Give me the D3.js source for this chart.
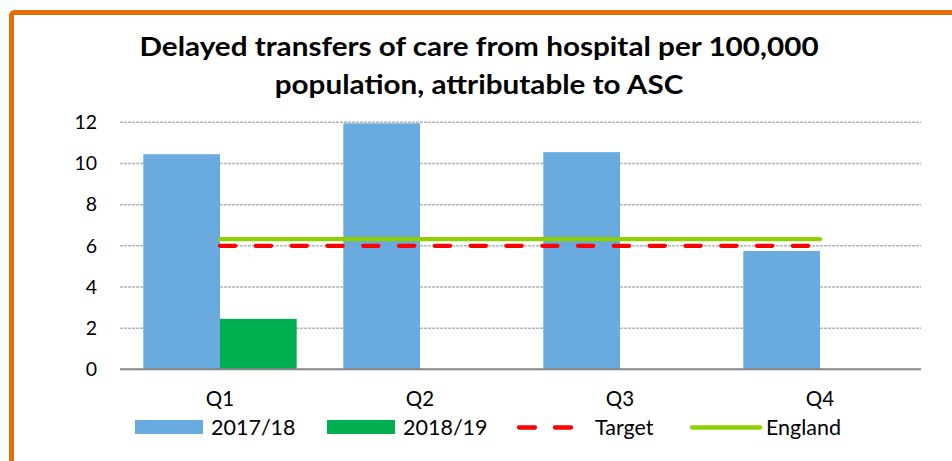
<!DOCTYPE html>
<html>
<head>
<meta charset="utf-8">
<script src="https://cdn.jsdelivr.net/npm/d3@7"></script>
<style>
  body { margin: 0; background: #fff; }
  svg { display: block; font-family: "Lato", "Open Sans", sans-serif; }
</style>
</head>
<body>
<svg id="chart" width="952" height="461"></svg>
<script>
// chart data
var quarters = ["Q1", "Q2", "Q3", "Q4"];
var seriesNames = ["2017/18", "2018/19"];
var values1718 = [10.45, 11.95, 10.55, 5.75];
var values1819 = [2.45, null, null, null];
var targetValues = [6, 6, 6, 6];
var englandValues = [6.32, 6.32, 6.32, 6.32];
var yTicks = [0, 2, 4, 6, 8, 10, 12];
var titleLines = ["Delayed transfers of care from hospital per 100,000", "population, attributable to ASC"];

var colors = { "2017/18": "#69abde", "2018/19": "#00b050", target: "#ff0000", england: "#8fd100" };

const svg = d3.select('#chart');

// orange frame (only top and left show)
svg.append('rect')
  .attr('x', 11.5).attr('y', 12.5)
  .attr('width', 980).attr('height', 500)
  .attr('rx', 3)
  .attr('fill', 'none')
  .attr('stroke', '#e46c0a')
  .attr('stroke-width', 5);

// title - stretched a bit, the original font is wider than Lato
svg.append('g')
  .attr('transform', 'translate(479,0) scale(1.12,1)')
  .selectAll('text')
  .data(titleLines)
  .enter()
  .append('text')
  .attr('x', 0)
  .attr('y', (d, i) => 56 + i * 38)
  .attr('text-anchor', 'middle')
  .attr('font-size', 26.5)
  .attr('font-weight', 'bold')
  .attr('fill', '#000')
  .text(d => d);

// scales
const x = d3.scaleBand()
  .domain(quarters)
  .range([120, 920])
  .paddingInner(0.233)
  .paddingOuter(0.1165);

const xSub = d3.scaleBand()
  .domain(seriesNames)
  .range([0, x.bandwidth()]);

const y = d3.scaleLinear().domain([0, 12]).range([369.3, 122.3]);

// gridlines
svg.append('g')
  .selectAll('line')
  .data(yTicks.filter(t => t > 0))
  .enter()
  .append('line')
  .attr('x1', 120).attr('x2', 921)
  .attr('y1', d => y(d)).attr('y2', d => y(d))
  .attr('stroke', '#b5b5b5')
  .attr('stroke-width', 1.5)
  .attr('stroke-dasharray', '3,1');

// y axis labels
const yAxis = svg.append('g')
  .attr('transform', 'translate(120,0)')
  .call(d3.axisLeft(y).tickValues(yTicks).tickSize(0).tickPadding(23).tickFormat(d3.format('d')));
yAxis.select('.domain').remove();
yAxis.selectAll('text')
  .attr('font-family', 'Lato')
  .attr('font-size', 19.5)
  .attr('fill', '#000');

// bars
var barData = [];
quarters.forEach(function(q, i) {
  if (values1718[i] != null) barData.push({ q: q, s: "2017/18", v: values1718[i] });
  if (values1819[i] != null) barData.push({ q: q, s: "2018/19", v: values1819[i] });
});

svg.append('g')
  .selectAll('rect')
  .data(barData)
  .enter()
  .append('rect')
  .attr('x', d => x(d.q) + xSub(d.s))
  .attr('y', d => y(d.v))
  .attr('width', xSub.bandwidth())
  .attr('height', d => y(0) - y(d.v))
  .attr('fill', d => colors[d.s]);

// x axis line
svg.append('line')
  .attr('x1', 120).attr('x2', 921)
  .attr('y1', y(0)).attr('y2', y(0))
  .attr('stroke', '#868686')
  .attr('stroke-width', 2);

// target + england lines
const line = d3.line()
  .x((d, i) => x(quarters[i]) + x.bandwidth() / 2)
  .y(d => y(d));

svg.append('path')
  .datum(targetValues)
  .attr('d', line)
  .attr('fill', 'none')
  .attr('stroke', colors.target)
  .attr('stroke-width', 4.3)
  .attr('stroke-linecap', 'round')
  .attr('stroke-dasharray', '15.3,20.5');

svg.append('path')
  .datum(englandValues)
  .attr('d', line)
  .attr('fill', 'none')
  .attr('stroke', colors.england)
  .attr('stroke-width', 4.3)
  .attr('stroke-linecap', 'round');

// category labels
svg.append('g')
  .selectAll('text')
  .data(quarters)
  .enter()
  .append('text')
  .attr('x', d => x(d) + x.bandwidth() / 2)
  .attr('y', 406)
  .attr('text-anchor', 'middle')
  .attr('font-size', 20.5)
  .text(d => d);

// legend
var legendItems = [
  { name: "2017/18", type: 'rect', color: colors["2017/18"], x: 135 },
  { name: "2018/19", type: 'rect', color: colors["2018/19"], x: 327 },
  { name: "Target", type: 'dash', color: colors.target, x: 517 },
  { name: "England", type: 'line', color: colors.england, x: 690 }
];
var textX = { "2017/18": 211, "2018/19": 403, "Target": 595, "England": 766 };

const legend = svg.append('g');
legendItems.forEach(function(item) {
  if (item.type == 'rect') {
    legend.append('rect')
      .attr('x', item.x).attr('y', 420)
      .attr('width', 68).attr('height', 14)
      .attr('fill', item.color);
  } else {
    legend.append('line')
      .attr('x1', item.x + 2).attr('x2', item.x + 70)
      .attr('y1', 427.5).attr('y2', 427.5)
      .attr('stroke', item.color)
      .attr('stroke-width', 4.3)
      .attr('stroke-linecap', 'round')
      .attr('stroke-dasharray', item.type == 'dash' ? '16,20' : null);
  }
  legend.append('text')
    .attr('x', textX[item.name])
    .attr('y', 435)
    .attr('font-size', 21.5)
    .text(item.name);
});
</script>
</body>
</html>
